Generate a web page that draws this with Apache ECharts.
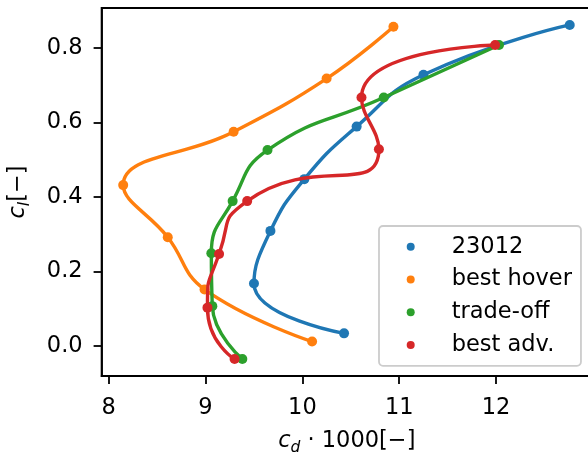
<!DOCTYPE html>
<html>
<head>
<meta charset="utf-8">
<script src="https://cdn.jsdelivr.net/npm/echarts@6/dist/echarts.min.js"></script>
<style>
html,body{margin:0;padding:0;background:#fff;}
#chart{width:588px;height:457px;}
</style>
</head>
<body>
<div id="chart"></div>
<script>
// Data (cd*1000, cl)
var seriesNames = ['23012', 'best hover', 'trade-off', 'best adv.'];
var cd23012 = [10.43, 9.50, 9.67, 10.02, 10.56, 11.25, 12.76];
var cl23012 = [0.034, 0.168, 0.309, 0.448, 0.589, 0.728, 0.862];
var cdHover = [10.10, 8.99, 8.61, 8.15, 9.29, 10.25, 10.94];
var clHover = [0.012, 0.152, 0.292, 0.432, 0.575, 0.718, 0.857];
var cdTrade = [9.38, 9.07, 9.06, 9.28, 9.64, 10.84, 12.03];
var clTrade = [-0.035, 0.107, 0.249, 0.389, 0.526, 0.667, 0.808];
var cdAdv = [9.30, 9.02, 9.14, 9.43, 10.79, 10.61, 11.99];
var clAdv = [-0.035, 0.103, 0.247, 0.389, 0.528, 0.667, 0.808];
var xTicks = [8, 9, 10, 11, 12];
var yTicks = [0.0, 0.2, 0.4, 0.6, 0.8];

var colors = ['#1f77b4', '#ff7f0e', '#2ca02c', '#d62728'];
var smoothness = [0.5, 0.45, 0.5, 0.65];
var FONT = 'DejaVu Sans';
var FS = 22.5;

function pairs(xs, ys) {
  return xs.map(function (x, i) { return [x, ys[i]]; });
}
var allData = [pairs(cd23012, cl23012), pairs(cdHover, clHover), pairs(cdTrade, clTrade), pairs(cdAdv, clAdv)];

function nameRich() {
  return {
    i: {fontSize: FS, fontStyle: 'italic', fontFamily: FONT, color: '#000', verticalAlign: 'top', lineHeight: 27},
    s: {fontSize: 15.5, fontStyle: 'italic', fontFamily: FONT, color: '#000', verticalAlign: 'top', padding: [10, 0, 0, 0]},
    n: {fontSize: FS, fontFamily: FONT, color: '#000', verticalAlign: 'top', lineHeight: 27}
  };
}

var chart = echarts.init(document.getElementById('chart'), null, {renderer: 'canvas'});
var option = {
  animation: false,
  backgroundColor: '#fff',
  textStyle: {fontFamily: FONT},
  grid: {
    left: 101.6, right: -4, top: 8, bottom: 81,
    show: true, borderColor: '#000', borderWidth: 1.8,
    containLabel: false, outerBoundsMode: 'none'
  },
  legend: {
    orient: 'vertical',
    left: 379, top: 226,
    padding: [8.7, 9, 8.7, 27.7],
    itemWidth: 8, itemHeight: 8, itemGap: 8.8,
    icon: 'circle',
    backgroundColor: 'rgba(255,255,255,0.8)',
    borderColor: '#cccccc', borderWidth: 1.8, borderRadius: 4,
    textStyle: {fontFamily: FONT, fontSize: FS, lineHeight: 24, color: '#000', padding: [0, 0, 0, 32]},
    data: seriesNames
  },
  xAxis: {
    type: 'value', min: 7.927, max: 12.99,
    splitLine: {show: false},
    axisLine: {show: true, onZero: false, lineStyle: {color: '#000', width: 1.8}},
    axisTick: {show: true, customValues: xTicks, length: 8, lineStyle: {color: '#000', width: 1.8}},
    axisLabel: {customValues: xTicks, color: '#000', fontSize: FS, fontFamily: FONT, margin: 21,
      formatter: function (v) { return String(Math.round(v)); }},
    name: '{i|c}{s|d}{n| · 1000[−]}',
    nameLocation: 'middle', nameGap: 54,
    nameTextStyle: {color: '#000', fontSize: FS, fontFamily: FONT, rich: nameRich()}
  },
  yAxis: {
    type: 'value', min: -0.0805, max: 0.9074,
    splitLine: {show: false},
    axisLine: {show: true, onZero: false, lineStyle: {color: '#000', width: 1.8}},
    axisTick: {show: true, customValues: yTicks, length: 8, lineStyle: {color: '#000', width: 1.8}},
    axisLabel: {customValues: yTicks, color: '#000', fontSize: FS, fontFamily: FONT, margin: 19,
      formatter: function (v) { return (Math.abs(v) < 1e-9 ? 0 : v).toFixed(1); }},
    name: '{i|c}{s|l}{n|[−]}',
    nameLocation: 'middle', nameGap: 68, nameRotate: 90,
    nameTextStyle: {color: '#000', fontSize: FS, fontFamily: FONT, rich: nameRich()}
  },
  series: allData.map(function (d, k) {
    return {
      name: seriesNames[k],
      type: 'line',
      data: d,
      smooth: smoothness[k],
      symbol: 'circle',
      symbolSize: 10,
      showSymbol: true,
      color: colors[k],
      itemStyle: {color: colors[k]},
      lineStyle: {color: colors[k], width: 3.4},
      emphasis: {disabled: true},
      z: 2 + k
    };
  })
};
chart.setOption(option);
</script>
</body>
</html>
